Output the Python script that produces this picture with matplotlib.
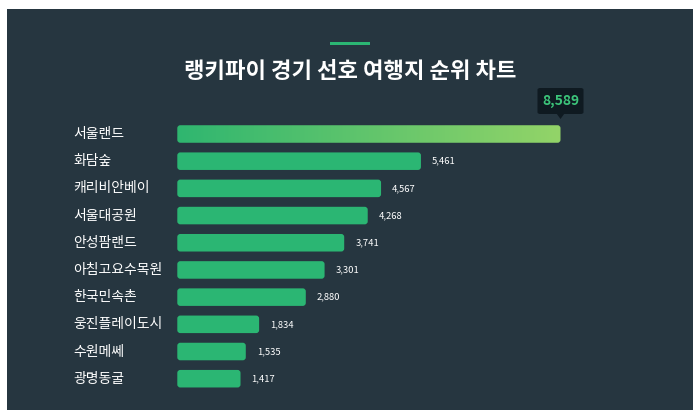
import matplotlib
matplotlib.use("Agg")
import matplotlib.pyplot as plt
import numpy as np
from matplotlib.patches import Rectangle, FancyBboxPatch, Polygon
from matplotlib.colors import LinearSegmentedColormap

plt.rcParams['font.family'] = ['Noto Sans CJK KR', 'DejaVu Sans']

title = "랭키파이 경기 선호 여행지 순위 차트"
categories = ["서울랜드", "화담숲", "캐리비안베이", "서울대공원", "안성팜랜드",
              "아침고요수목원", "한국민속촌", "웅진플레이도시", "수원메쎄", "광명동굴"]
values = [8589, 5461, 4567, 4268, 3741, 3301, 2880, 1834, 1535, 1417]

W, H = 700, 420
fig = plt.figure(figsize=(7, 4.2), dpi=100, facecolor="white")
bg = "#263640"
fig.patches.append(Rectangle((7 / W, 10 / H), 686 / W, 401 / H, transform=fig.transFigure,
                             facecolor=bg, edgecolor="none", zorder=-5))
# accent line
fig.patches.append(Rectangle((330 / W, 1 - 44.5 / H), 40 / W, 2.5 / H, transform=fig.transFigure,
                             facecolor="#2bb673", edgecolor="none", zorder=1))
fig.text(0.5, 1 - 71 / H, title, ha="center", va="center", color="white",
         fontsize=16, fontweight="bold")

x0, x1 = 177.3, 650
y_top, y_bot = 120.4, 392.3
ax = fig.add_axes([x0 / W, 1 - y_bot / H, (x1 - x0) / W, (y_bot - y_top) / H])
ax.set_zorder(5)
ax.set_facecolor("none")
xmax = values[0] * (x1 - x0) / (560.5 - x0)
n = len(values)
ax.set_xlim(0, xmax)
ax.set_ylim(n - 0.5, -0.5)
ax.axis("off")

px_x = xmax / (x1 - x0)
px_y = n / (y_bot - y_top)

ypos = np.arange(n)
bar_color = "#2bb673"
bars = ax.barh(ypos, values, height=0.645, color=bar_color)
cmap = LinearSegmentedColormap.from_list("g", ["#2fb670", "#93d468"])
grad = np.linspace(0, 1, 256).reshape(1, -1)
for i, b in enumerate(bars):
    b.set_visible(False)
    bx, by, bw, bh = b.get_x(), b.get_y(), b.get_width(), b.get_height()
    fp = FancyBboxPatch((bx, by), bw, bh,
                        boxstyle=f"round,pad=0,rounding_size={3 * px_x}",
                        mutation_aspect=px_y / px_x, transform=ax.transData,
                        facecolor=bar_color if i else "none", edgecolor="none", zorder=2)
    ax.add_patch(fp)
    if i == 0:
        im = ax.imshow(grad, extent=(bx, bx + bw, by + bh, by), cmap=cmap,
                       aspect="auto", zorder=3)
        im.set_clip_path(fp)
ax.set_xlim(0, xmax)
ax.set_ylim(n - 0.5, -0.5)

for i, v in enumerate(values[1:], start=1):
    ax.text(v + 11 * px_x, i, f"{v:,}", va="center", ha="left", color="white", fontsize=6.8)

for i, c in enumerate(categories):
    fig.text(73 / W, 1 - (134 + 27.19 * i) / H, c, ha="left", va="center", color="white", fontsize=10)

# tooltip for the top value
v0 = values[0]
xpix = ax.transData.transform((v0, 0))[0]
tx = xpix / W
fig.patches.append(FancyBboxPatch(((xpix - 23) / W, 1 - 114 / H), 46 / W, 26 / H,
                                  boxstyle="round,pad=0,rounding_size=0.004",
                                  transform=fig.transFigure, facecolor="#0f1a21",
                                  edgecolor="none", zorder=2))
fig.patches.append(Polygon([((xpix - 4) / W, 1 - 113.5 / H), ((xpix + 4) / W, 1 - 113.5 / H),
                            (xpix / W, 1 - 119 / H)], closed=True, transform=fig.transFigure,
                           facecolor="#0f1a21", edgecolor="none", zorder=2))
fig.text(tx, 1 - 101 / H, f"{v0:,}", ha="center", va="center", color="#3cc47a",
         fontsize=10, fontweight="bold", zorder=3)

fig.savefig("out.png", dpi=100, facecolor="white")
